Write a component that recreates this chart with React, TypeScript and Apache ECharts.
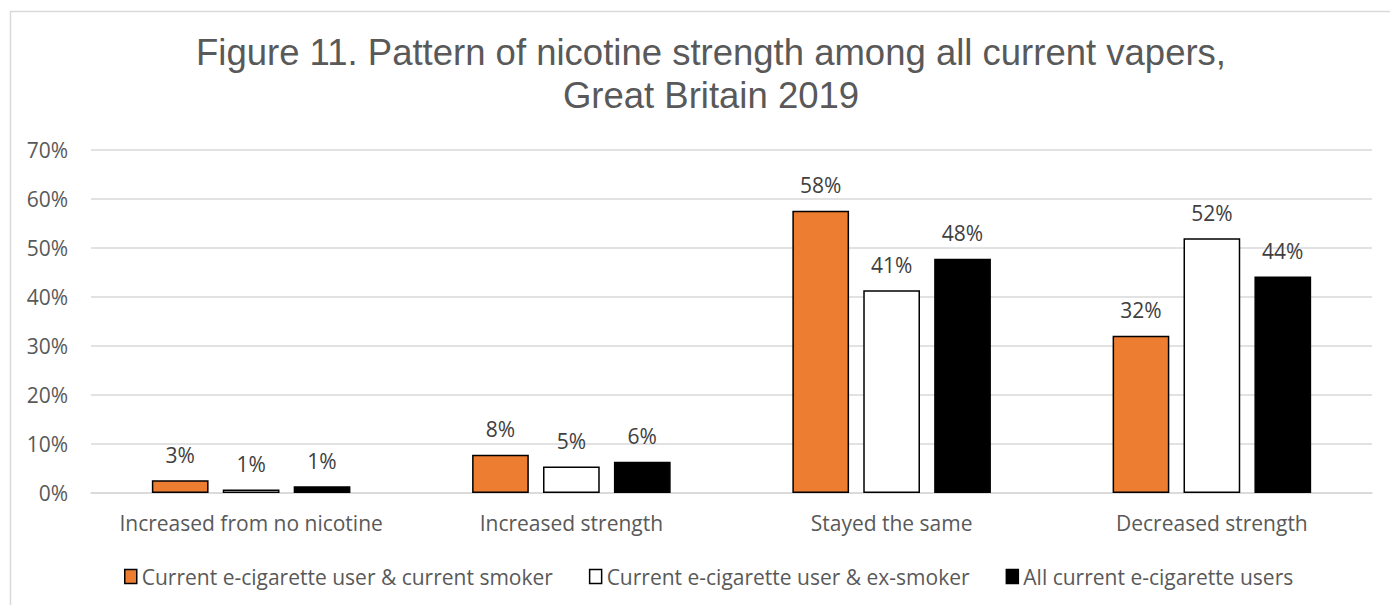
import React, { useEffect, useRef } from "react";
import * as echarts from "echarts";

const categories = ["Increased from no nicotine", "Increased strength", "Stayed the same", "Decreased strength"];
const seriesNames = [
  "Current e-cigarette user & current smoker",
  "Current e-cigarette user & ex-smoker",
  "All current e-cigarette users",
];
const smokerValues = [2.6, 7.8, 57.6, 32.1];
const exSmokerValues = [0.7, 5.4, 41.4, 52.0];
const allValues = [1.4, 6.4, 47.8, 44.2];
const yTicks = [0, 10, 20, 30, 40, 50, 60, 70];
const titleLines = ["Figure 11. Pattern of nicotine strength among all current vapers,", "Great Britain 2019"];

const FONT = "'Open Sans', sans-serif";
const FS = 21;
const fills = ["#ED7D31", "#FFFFFF", "#000000"];

export default function App() {
  const ref = useRef<HTMLDivElement>(null);
  useEffect(() => {
    if (!ref.current) return;
    const chart = echarts.init(ref.current, undefined, { renderer: "svg" });
    const values = [smokerValues, exSmokerValues, allValues];
    chart.setOption({
      animation: false,
      backgroundColor: "#ffffff",
      title: {
        text: titleLines.join("\n"),
        left: 706,
        textAlign: "center",
        top: 26,
        textStyle: { fontFamily: "'Liberation Sans', Arial, sans-serif", fontSize: 36.5, fontWeight: "normal", color: "#595959", lineHeight: 43 },
      },
      graphic: [
        {
          type: "rect",
          shape: { x: 10.5, y: 11.5, width: 1400, height: 620 },
          style: { fill: "none", stroke: "#d9d9d9", lineWidth: 1.5 },
          silent: true,
        },
      ],
      legend: {
        left: 119,
        top: 561,
        itemWidth: 12,
        itemHeight: 14,
        itemGap: 36,
        textStyle: { fontFamily: FONT, fontSize: FS, color: "#595959" },
        data: seriesNames.map((n, i) => ({ name: n, icon: "rect", itemStyle: { color: fills[i], borderColor: "#000", borderWidth: 1.5 } })),
      },
      grid: { left: 91, right: 18, top: 150, bottom: 112, containLabel: false },
      xAxis: {
        type: "category",
        data: categories,
        axisLine: { lineStyle: { color: "#d9d9d9", width: 1.5 } },
        axisTick: { show: false },
        axisLabel: { interval: 0, fontFamily: FONT, fontSize: FS, color: "#595959", margin: 19 },
      },
      yAxis: {
        type: "value",
        min: 0,
        max: 70,
        interval: 10,
        axisLine: { show: false },
        axisTick: { show: false },
        splitLine: { lineStyle: { color: "#d9d9d9", width: 1.5 } },
        axisLabel: {
          fontFamily: FONT,
          fontSize: FS,
          color: "#595959",
          margin: 23,
          formatter: (v: number) => (yTicks.includes(v) ? v + "%" : ""),
        },
      },
      series: seriesNames.map((name, i) => ({
        name,
        type: "bar",
        data: values[i],
        barGap: "25%",
        barCategoryGap: "38%",
        itemStyle: { color: fills[i], borderColor: "#000", borderWidth: 1.5 },
        label: {
          show: true,
          position: "top",
          distance: 15,
          fontFamily: FONT,
          fontSize: FS,
          color: "#404040",
          formatter: (p: any) => Math.round(p.value) + "%",
        },
      })),
    });
    return () => chart.dispose();
  }, []);
  return <div ref={ref} style={{ position: "fixed", left: 0, top: 0, width: 1390, height: 605 }} />;
}
